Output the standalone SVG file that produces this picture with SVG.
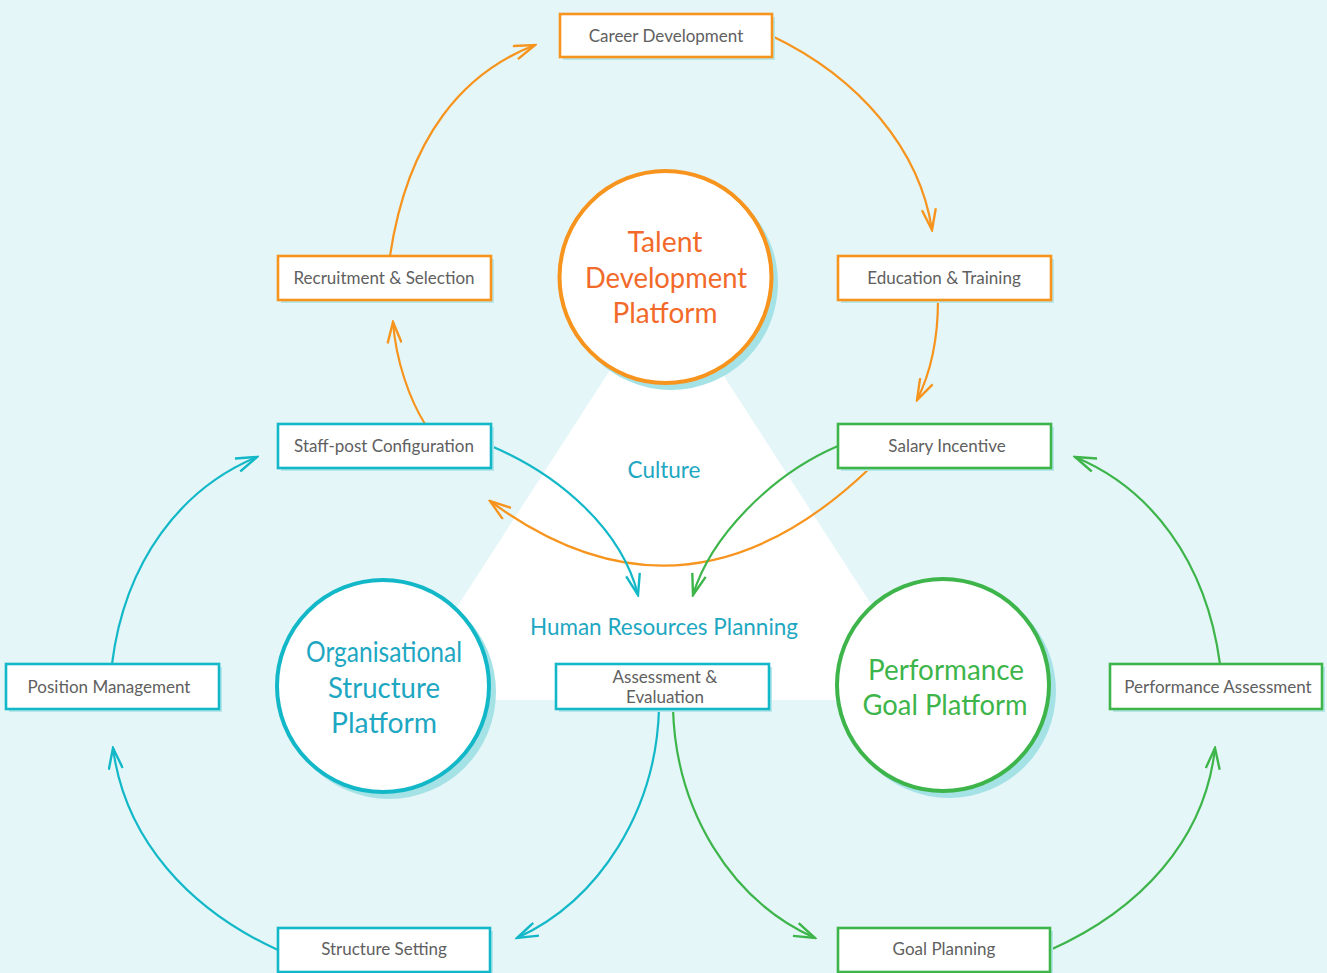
<svg xmlns="http://www.w3.org/2000/svg" width="1327" height="973" viewBox="0 0 1327 973">
<defs>
<style>
.bg{fill:#e4f6f8}
.box{fill:#ffffff;stroke-width:2.6}
.shd{fill:#b6e6ea}
.cshd{fill:#a5e2e6}
.o{stroke:#f7941d}
.c{stroke:#13b8c8}
.g{stroke:#3db54a}
.bt{font-family:Lato,"Liberation Sans",sans-serif;font-size:17px;fill:#606060;text-anchor:middle}
.ct{font-family:Lato,"Liberation Sans",sans-serif;font-size:29px;text-anchor:middle}
.lt{font-family:Lato,"Liberation Sans",sans-serif;font-size:22.5px;fill:#1ea7c2;text-anchor:middle}
.ln{fill:none;stroke-width:2.2}
</style>
<marker id="ao" markerUnits="userSpaceOnUse" viewBox="0 0 24 16" refX="22" refY="8" markerWidth="24" markerHeight="16" orient="auto"><path d="M1,1 L22,8 L1,15" fill="none" stroke="#f7941d" stroke-width="2.4"/></marker>
<marker id="ac" markerUnits="userSpaceOnUse" viewBox="0 0 24 16" refX="22" refY="8" markerWidth="24" markerHeight="16" orient="auto"><path d="M1,1 L22,8 L1,15" fill="none" stroke="#13b8c8" stroke-width="2.4"/></marker>
<marker id="ag" markerUnits="userSpaceOnUse" viewBox="0 0 24 16" refX="22" refY="8" markerWidth="24" markerHeight="16" orient="auto"><path d="M1,1 L22,8 L1,15" fill="none" stroke="#3db54a" stroke-width="2.4"/></marker>
</defs>
<rect class="bg" x="0" y="0" width="1327" height="973"/>
<polygon points="665,285 397,700 933,700" fill="#ffffff"/>
<text class="lt" x="664" y="478">Culture</text>
<text class="lt" x="664" y="635">Human Resources Planning</text>

<g id="connectors">
<path class="ln o" d="M390,256 C408,135 465,72 535,45" marker-end="url(#ao)"/>
<path class="ln o" d="M772,36 C860,78 920,150 932,230" marker-end="url(#ao)"/>
<path class="ln o" d="M938,300 C938,340 931,372 917,400" marker-end="url(#ao)"/>
<path class="ln o" d="M425,424 C410,400 396,362 393,322" marker-end="url(#ao)"/>
<path class="ln o" d="M870,468 Q685,645 490,501" marker-end="url(#ao)"/>
<path class="ln c" d="M491,446 C560,475 622,530 638,595" marker-end="url(#ac)"/>
<path class="ln c" d="M112,664 C125,560 182,488 257,457" marker-end="url(#ac)"/>
<path class="ln c" d="M278,950 C190,910 125,840 113,748" marker-end="url(#ac)"/>
<path class="ln c" d="M659,709 C656,810 600,900 517,938" marker-end="url(#ac)"/>
<path class="ln g" d="M838,446 C770,475 710,538 693,595" marker-end="url(#ag)"/>
<path class="ln g" d="M1220,664 C1206,560 1150,488 1075,457" marker-end="url(#ag)"/>
<path class="ln g" d="M1050,950 C1140,910 1205,840 1215,748" marker-end="url(#ag)"/>
<path class="ln g" d="M673,709 C676,810 730,900 815,938" marker-end="url(#ag)"/>
</g>

<g id="talent">
<circle class="cshd" cx="671" cy="283" r="107"/>
<circle cx="665.5" cy="277" r="106" fill="#ffffff" stroke="#f7941d" stroke-width="4"/>
<text class="ct" fill="#f26a2a"><tspan x="665" y="252" textLength="75" lengthAdjust="spacingAndGlyphs">Talent</tspan><tspan x="666" y="288" textLength="162" lengthAdjust="spacingAndGlyphs">Development</tspan><tspan x="665" y="323" textLength="105" lengthAdjust="spacingAndGlyphs">Platform</tspan></text>
</g>
<g id="org">
<circle class="cshd" cx="389" cy="692" r="107"/>
<circle cx="383" cy="686" r="106" fill="#ffffff" stroke="#13b8c8" stroke-width="4"/>
<text class="ct" fill="#1ea7c2"><tspan x="384" y="662" textLength="156" lengthAdjust="spacingAndGlyphs">Organisational</tspan><tspan x="384" y="698" textLength="112" lengthAdjust="spacingAndGlyphs">Structure</tspan><tspan x="384" y="733" textLength="106" lengthAdjust="spacingAndGlyphs">Platform</tspan></text>
</g>
<g id="perf">
<circle class="cshd" cx="949" cy="691" r="107"/>
<circle cx="943" cy="685" r="106" fill="#ffffff" stroke="#3db54a" stroke-width="4"/>
<text class="ct" fill="#3db54a"><tspan x="946" y="680" textLength="156" lengthAdjust="spacingAndGlyphs">Performance</tspan><tspan x="945" y="715" textLength="165" lengthAdjust="spacingAndGlyphs">Goal Platform</tspan></text>
</g>

<g id="career"><rect class="shd" x="563" y="17" width="212" height="43"/><rect class="box o" x="560" y="14" width="212" height="43"/><text class="bt" x="666" y="42">Career Development</text></g>
<g id="recruit"><rect class="shd" x="281" y="259" width="213" height="44"/><rect class="box o" x="278" y="256" width="213" height="44"/><text class="bt" x="384" y="284">Recruitment &amp; Selection</text></g>
<g id="edu"><rect class="shd" x="841" y="259" width="213" height="44"/><rect class="box o" x="838" y="256" width="213" height="44"/><text class="bt" x="944" y="284">Education &amp; Training</text></g>
<g id="staff"><rect class="shd" x="281" y="427" width="213" height="44"/><rect class="box c" x="278" y="424" width="213" height="44"/><text class="bt" x="384" y="452">Staff-post Configuration</text></g>
<g id="salary"><rect class="shd" x="841" y="427" width="213" height="44"/><rect class="box g" x="838" y="424" width="213" height="44"/><text class="bt" x="947" y="452">Salary Incentive</text></g>
<g id="position"><rect class="shd" x="9" y="667" width="213" height="45"/><rect class="box c" x="6" y="664" width="213" height="45"/><text class="bt" x="109" y="693">Position Management</text></g>
<g id="assess"><rect class="shd" x="559" y="667" width="213" height="45"/><rect class="box c" x="556" y="664" width="213" height="45"/><text class="bt" x="665" y="683">Assessment &amp;</text><text class="bt" x="665" y="703">Evaluation</text></g>
<g id="perfassess"><rect class="shd" x="1113" y="667" width="212" height="45"/><rect class="box g" x="1110" y="664" width="212" height="45"/><text class="bt" x="1218" y="693">Performance Assessment</text></g>
<g id="structure"><rect class="shd" x="281" y="931" width="212" height="44"/><rect class="box c" x="278" y="928" width="212" height="44"/><text class="bt" x="384" y="955">Structure Setting</text></g>
<g id="goal"><rect class="shd" x="841" y="931" width="212" height="44"/><rect class="box g" x="838" y="928" width="212" height="44"/><text class="bt" x="944" y="955">Goal Planning</text></g>
</svg>
